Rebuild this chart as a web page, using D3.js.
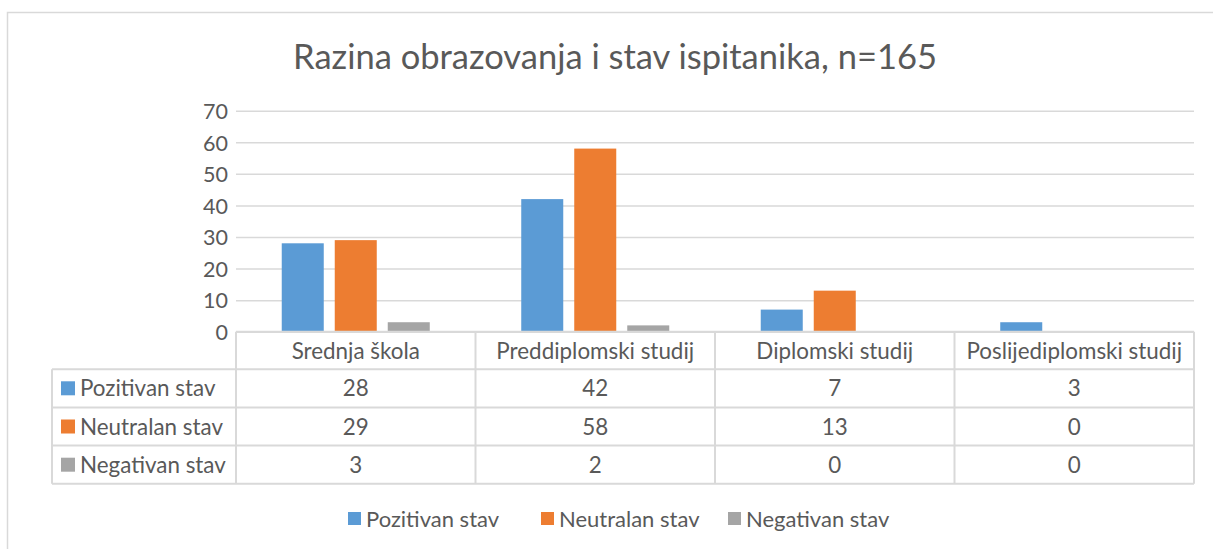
<!DOCTYPE html>
<html>
<head>
<meta charset="utf-8">
<script src="https://cdn.jsdelivr.net/npm/d3@7"></script>
<style>
  body { margin: 0; background: #fff; }
  svg { display: block; }
</style>
</head>
<body>
<div id="svgDIV"></div>
<script>
// data
var categories = ["Srednja škola", "Preddiplomski studij", "Diplomski studij", "Poslijediplomski studij"]
var seriesNames = ["Pozitivan stav", "Neutralan stav", "Negativan stav"]
var pozitivan = [28, 42, 7, 3]
var neutralan = [29, 58, 13, 0]
var negativan = [3, 2, 0, 0]
var yTicks = [0, 10, 20, 30, 40, 50, 60, 70]
var titleText = "Razina obrazovanja i stav ispitanika, n=165"

var seriesValues = [pozitivan, neutralan, negativan]
var seriesColors = ["#5b9bd5", "#ed7d31", "#a5a5a5"]

// sizes
var svgWidth = 1213
var svgHeight = 549
var plotLeft = 236
var plotRight = 1194
var plotTop = 110.7
var plotBottom = 331.7
var tableLeft = 52
var rowHeight = 38.2
var headerHeight = 37.5
var textColor = "#595959"
var lineColor = "#d9d9d9"
var fontFam = "Lato, 'Open Sans', sans-serif"
var bodySize = "22.4px"

var svg = d3.select("#svgDIV").append("svg")
  .attr("width", svgWidth)
  .attr("height", svgHeight)
  .attr("id", "mainSVG")

// chart area border (runs off the right and bottom of the picture)
svg.append("rect")
  .attr("x", 7.5)
  .attr("y", 12.5)
  .attr("width", 1230)
  .attr("height", 560)
  .style("fill", "#fff")
  .style("stroke", lineColor)
  .style("stroke-width", 1.5)

// title
svg.append("text")
  .attr("x", 615)
  .attr("y", 69)
  .attr("text-anchor", "middle")
  .style("font-family", fontFam)
  .style("font-size", "34.5px")
  .style("fill", textColor)
  .text(titleText)

// scales
var x = d3.scaleBand()
  .domain(categories)
  .range([plotLeft, plotRight])
  .padding(0)

var xInner = d3.scaleBand()
  .domain(seriesNames)
  .range([0, x.bandwidth()])
  .paddingInner(0.2075)
  .paddingOuter(0.863)

var y = d3.scaleLinear()
  .domain([0, 70])
  .range([plotBottom, plotTop])

// gridlines + y labels
var yAxis = d3.axisLeft(y)
  .tickValues(yTicks)
  .tickSize(-(plotRight - plotLeft))
  .tickPadding(8)

var yG = svg.append("g")
  .attr("transform", `translate(${plotLeft},0)`)
  .call(yAxis)
yG.select(".domain").remove()
yG.selectAll(".tick line")
  .style("stroke", lineColor)
  .style("stroke-width", 1.5)
yG.selectAll(".tick text")
  .style("font-family", fontFam)
  .style("font-size", "21.5px")
  .style("fill", textColor)
  .attr("dy", "0.36em")

// bars
seriesNames.forEach(function(name, si){
  svg.append("g")
    .selectAll("rect")
    .data(seriesValues[si])
    .join("rect")
    .attr("x", (d, i) => x(categories[i]) + xInner(name))
    .attr("y", d => y(d))
    .attr("width", xInner.bandwidth())
    .attr("height", d => y(0) - y(d))
    .style("fill", seriesColors[si])
})

// data table under the plot
var table = svg.append("g").style("font-family", fontFam).style("font-size", bodySize)
var tableBottom = plotBottom + headerHeight + rowHeight * seriesNames.length

// horizontal lines
table.append("line")
  .attr("x1", plotLeft).attr("x2", plotRight)
  .attr("y1", plotBottom).attr("y2", plotBottom)
  .style("stroke", lineColor).style("stroke-width", 2)
for (var r = 0; r <= seriesNames.length; r++){
  var yy = plotBottom + headerHeight + r * rowHeight
  table.append("line")
    .attr("x1", tableLeft).attr("x2", plotRight)
    .attr("y1", yy).attr("y2", yy)
    .style("stroke", lineColor).style("stroke-width", 2)
}

// vertical lines
table.append("line")
  .attr("x1", tableLeft).attr("x2", tableLeft)
  .attr("y1", plotBottom + headerHeight).attr("y2", tableBottom)
  .style("stroke", lineColor).style("stroke-width", 2)
categories.forEach(function(c){
  table.append("line")
    .attr("x1", x(c)).attr("x2", x(c))
    .attr("y1", plotBottom).attr("y2", tableBottom)
    .style("stroke", lineColor).style("stroke-width", 2)
})
table.append("line")
  .attr("x1", plotRight).attr("x2", plotRight)
  .attr("y1", plotBottom).attr("y2", tableBottom)
  .style("stroke", lineColor).style("stroke-width", 2)

// header row: category names
table.selectAll(".hdr")
  .data(categories)
  .join("text")
  .attr("class", "hdr")
  .attr("x", d => x(d) + x.bandwidth() / 2)
  .attr("y", plotBottom + headerHeight / 2)
  .attr("dy", "0.36em")
  .attr("text-anchor", "middle")
  .style("fill", textColor)
  .text(d => d)

// series rows
seriesNames.forEach(function(name, si){
  var rowMid = plotBottom + headerHeight + si * rowHeight + rowHeight / 2

  table.append("rect")
    .attr("x", 61)
    .attr("y", rowMid - 7)
    .attr("width", 14)
    .attr("height", 14)
    .style("fill", seriesColors[si])

  table.append("text")
    .attr("x", 80)
    .attr("y", rowMid)
    .attr("dy", "0.36em")
    .style("fill", textColor)
    .text(name)

  table.append("g")
    .selectAll("text")
    .data(seriesValues[si])
    .join("text")
    .attr("x", (d, i) => x(categories[i]) + x.bandwidth() / 2)
    .attr("y", rowMid)
    .attr("dy", "0.36em")
    .attr("text-anchor", "middle")
    .style("fill", textColor)
    .text(d => d)
})

// legend at the bottom
var legendX = [348, 541, 728]
var legend = svg.append("g").style("font-family", fontFam).style("font-size", "22px")
seriesNames.forEach(function(name, si){
  legend.append("rect")
    .attr("x", legendX[si])
    .attr("y", 512)
    .attr("width", 13)
    .attr("height", 13)
    .style("fill", seriesColors[si])
  legend.append("text")
    .attr("x", legendX[si] + 18)
    .attr("y", 519)
    .attr("dy", "0.36em")
    .style("fill", textColor)
    .text(name)
})
</script>
</body>
</html>
